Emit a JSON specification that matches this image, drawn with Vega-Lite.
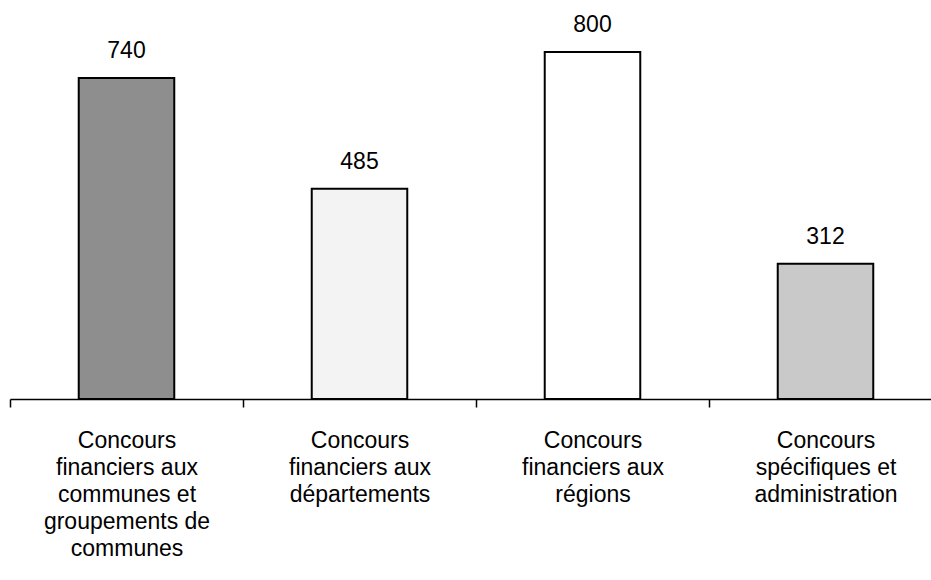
{
  "$schema": "https://vega.github.io/schema/vega-lite/v6.json",
  "width": 932,
  "height": 399,
  "autosize": "none",
  "padding": {"left": 10, "top": 0, "right": 0, "bottom": 181},
  "background": "white",
  "config": {"view": {"stroke": null}, "font": "Liberation Sans"},
  "data": {
    "values": [
      {"category": "Concours\nfinanciers aux\ncommunes et\ngroupements de\ncommunes", "value": 740},
      {"category": "Concours\nfinanciers aux\ndépartements", "value": 485},
      {"category": "Concours\nfinanciers aux\nrégions", "value": 800},
      {"category": "Concours\nspécifiques et\nadministration", "value": 312}
    ]
  },
  "encoding": {
    "x": {
      "field": "category",
      "type": "nominal",
      "sort": null,
      "scale": {"paddingInner": 0.59, "paddingOuter": 0.295},
      "axis": {
        "title": null,
        "labelAngle": 0,
        "tickOffset": -116.5,
        "labelOffset": 116.5,
        "tickSize": 8,
        "tickColor": "black",
        "tickWidth": 1.5,
        "domainColor": "black",
        "domainWidth": 1.5,
        "labelFontSize": 23,
        "labelColor": "black",
        "labelFont": "Liberation Sans",
        "labelLineHeight": 27,
        "labelPadding": 22,
        "labelLimit": 0,
        "labelExpr": "split(datum.label, '\\n')"
      }
    },
    "y": {
      "field": "value",
      "type": "quantitative",
      "scale": {"domain": [0, 920], "nice": false, "zero": true},
      "axis": null
    }
  },
  "layer": [
    {
      "mark": {"type": "bar", "stroke": "black", "strokeWidth": 2},
      "encoding": {
        "color": {
          "field": "category",
          "type": "nominal",
          "sort": null,
          "scale": {"range": ["#8e8e8e", "#f3f3f3", "#ffffff", "#c9c9c9"]},
          "legend": null
        }
      }
    },
    {
      "mark": {"type": "text", "dy": -20, "baseline": "alphabetic", "fontSize": 23, "color": "black"},
      "encoding": {"text": {"field": "value", "type": "quantitative"}}
    }
  ]
}
